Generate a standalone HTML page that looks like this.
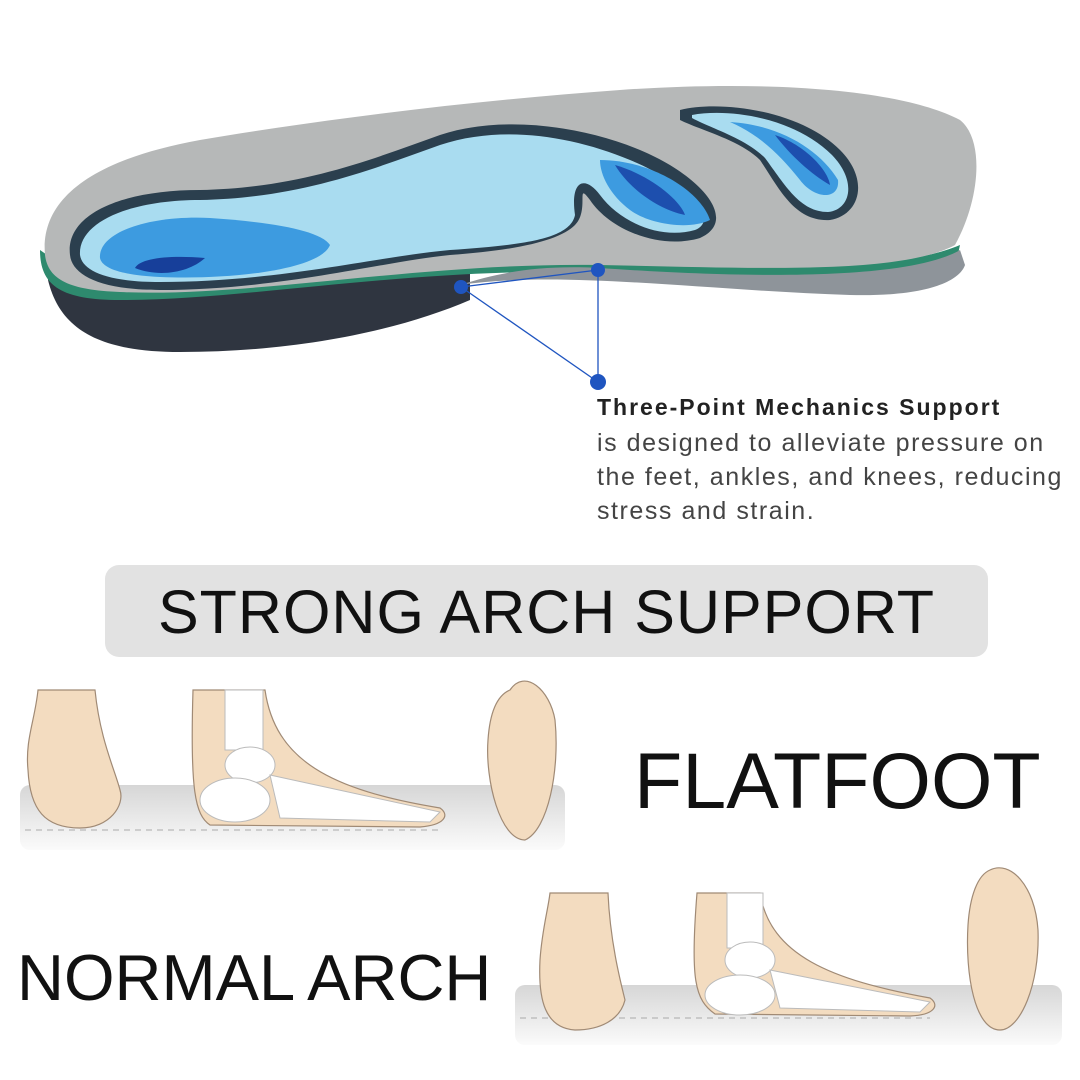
<!DOCTYPE html>
<html><head><meta charset="utf-8"><style>
html,body{margin:0;padding:0;background:#fff}
body{width:1080px;height:1080px;position:relative;overflow:hidden;font-family:"Liberation Sans",sans-serif}
svg{position:absolute;left:0;top:0}
.t{position:absolute;white-space:nowrap}
</style></head><body>
<svg width="1080" height="1080" viewBox="0 0 1080 1080">
<defs>
<linearGradient id="fl" x1="0" y1="0" x2="0" y2="1"><stop offset="0" stop-color="#d6d6d6"/><stop offset="1" stop-color="#fbfbfb"/></linearGradient>
</defs>
<path d="M48,280 C60,330 100,352 180,352 C300,352 400,330 470,300 L470,270 L48,260 Z" fill="#2f3540"/>
<path d="M40,250 C40,285 60,300 120,300 C250,300 400,268 600,272 C750,276 880,300 955,268 L960,245 C900,270 800,268 600,262 C400,256 200,290 90,285 Z" fill="#2e8a6e"/>
<path d="M460,285 C560,270 700,290 850,295 C930,297 960,280 965,265 L960,250 C900,285 700,275 600,268 C540,265 500,272 460,285Z" fill="#8e949a"/>
<path d="M45,255 C40,200 90,160 200,140 C330,118 480,100 620,90 C760,80 900,88 960,120 C985,140 980,200 955,245 C900,275 750,268 600,265 C420,262 250,298 120,292 C70,290 48,280 45,255Z" fill="#b6b8b8"/>
<path d="M70,255 C65,215 120,190 200,190 C300,188 370,160 440,135 C500,115 580,125 640,150 C700,175 740,220 700,238 C660,250 610,230 590,200 C575,180 590,210 575,225 C560,240 520,250 450,255 C380,262 280,290 160,290 C100,290 72,275 70,255Z" fill="#2b3f4e"/>
<path d="M80,255 C78,222 130,200 200,200 C300,198 370,170 440,145 C500,125 570,135 630,160 C690,185 720,220 695,230 C660,240 620,222 600,195 C585,175 570,180 575,215 C570,240 520,245 450,250 C380,256 280,282 160,282 C105,282 82,270 80,255Z" fill="#a9dcf0"/>
<path d="M100,258 C98,232 150,215 210,218 C270,222 320,230 330,245 C320,270 230,280 160,277 C120,275 102,268 100,258Z" fill="#3d9be0"/>
<path d="M135,268 C140,258 170,255 205,258 C190,272 160,278 135,268Z" fill="#173f9a"/>
<path d="M600,160 C650,160 700,190 710,220 C690,230 650,225 630,210 C610,195 600,175 600,160Z" fill="#3d9be0"/>
<path d="M615,165 C650,175 680,200 685,215 C660,210 630,190 615,165Z" fill="#1d4fae"/>
<path d="M680,110 C720,100 800,110 840,150 C870,180 860,215 830,220 C795,222 780,190 760,160 C740,140 700,130 680,120 Z" fill="#2b3f4e"/>
<path d="M692,115 C730,108 795,118 832,155 C858,182 850,210 828,212 C800,212 785,185 765,158 C745,138 710,128 692,118Z" fill="#a9dcf0"/>
<path d="M730,122 C780,125 820,150 838,180 C840,200 815,200 800,180 C780,155 760,135 730,122Z" fill="#3d9be0"/>
<path d="M775,135 C805,145 828,170 830,185 C812,175 790,155 775,135Z" fill="#1d4fae"/>
<g stroke="#1f55c0" stroke-width="1.3"><line x1="461" y1="287" x2="598" y2="382"/><line x1="598" y1="270" x2="598" y2="382"/><line x1="461" y1="287" x2="598" y2="270"/></g>
<g fill="#1f55c0"><circle cx="461" cy="287" r="7"/><circle cx="598" cy="270" r="7"/><circle cx="598" cy="382" r="8"/></g>
<rect x="105" y="565" width="883" height="92" rx="14" fill="#e2e2e2"/>
<rect x="20" y="785" width="545" height="65" rx="10" fill="url(#fl)"/>
<line x1="25" y1="830" x2="440" y2="830" stroke="#aaa" stroke-dasharray="6,5"/>
<rect x="515" y="985" width="547" height="60" rx="10" fill="url(#fl)"/>
<line x1="520" y1="1018" x2="930" y2="1018" stroke="#aaa" stroke-dasharray="6,5"/>
<g fill="#f3dcc0" stroke="#a08a75" stroke-width="1.2">
<path d="M38,690 L95,690 C100,740 115,770 120,790 C125,805 110,828 80,828 C45,828 30,810 28,770 C25,740 35,720 38,690Z"/>
<path d="M193,690 L265,690 C275,760 330,790 440,808 C450,815 445,825 420,827 L210,825 C195,815 190,790 193,690Z"/>
<path d="M510,690 C525,668 550,690 555,720 C560,770 548,830 525,840 C500,840 485,780 488,740 C490,710 498,695 510,690Z"/>
<path d="M550,893 L608,893 C610,940 620,980 625,1000 C620,1020 600,1030 575,1030 C545,1028 538,1000 540,960 C542,930 548,910 550,893Z"/>
<path d="M697,893 L760,893 C770,955 830,980 930,998 C940,1005 935,1015 910,1016 L715,1014 C695,1000 690,980 697,893Z"/>
<path d="M990,870 C1010,860 1035,885 1038,930 C1040,985 1020,1030 1000,1030 C975,1030 965,975 968,925 C970,895 978,875 990,870Z"/>
</g>
<g fill="#fff" stroke="#bbb">
<rect x="225" y="690" width="38" height="60"/><ellipse cx="250" cy="765" rx="25" ry="18"/><ellipse cx="235" cy="800" rx="35" ry="22"/><path d="M270,775 L440,812 L430,822 L280,818Z"/>
<rect x="727" y="893" width="36" height="55"/><ellipse cx="750" cy="960" rx="25" ry="18"/><ellipse cx="740" cy="995" rx="35" ry="20"/><path d="M770,970 L930,1002 L920,1012 L780,1008Z"/>
</g>
</svg>
<div class="t" style="left:597px;top:394px;font-size:23px;font-weight:bold;color:#222;letter-spacing:2px">Three-Point Mechanics Support</div>
<div class="t" style="left:597px;top:426px;font-size:25px;color:#444;line-height:34px;letter-spacing:1.55px">is designed to alleviate pressure on<br>the feet, ankles, and knees, reducing<br>stress and strain.</div>
<div class="t" style="left:105px;width:883px;text-align:center;top:577px;font-size:61px;color:#111;letter-spacing:1px">STRONG ARCH SUPPORT</div>
<div class="t" style="left:634px;top:735px;font-size:79px;color:#111">FLATFOOT</div>
<div class="t" style="left:17px;top:940px;font-size:65px;color:#111">NORMAL ARCH</div>
</body></html>
